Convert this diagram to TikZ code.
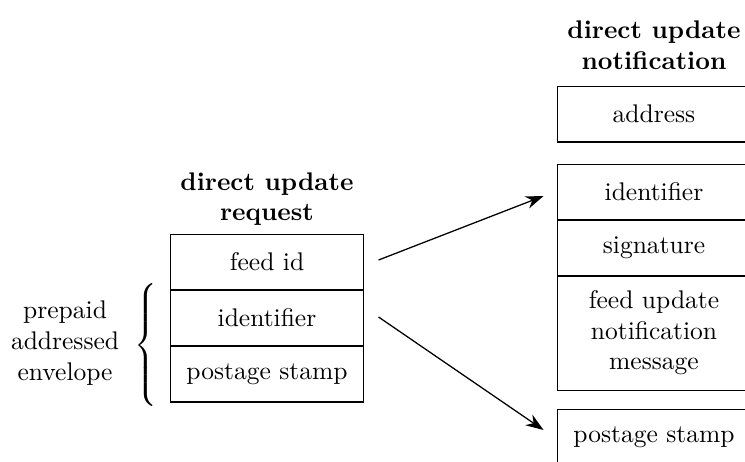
\documentclass[tikz,border=0pt]{standalone}
\usetikzlibrary{arrows.meta,calc}
\begin{document}
\begin{tikzpicture}[x=0.392pt,y=-0.392pt,
  cell/.style={draw,line width=0.4pt,minimum width=75.3pt,minimum height=21.95pt,inner sep=0pt,align=center,anchor=center},
  rcell/.style={cell,minimum width=76pt},
  title/.style={font=\bfseries,align=center,inner sep=0pt},
  conn/.style={-{Stealth[length=7pt,width=5pt]},line width=0.5pt}]
\clip (0,0) rectangle (745,461);
% left stack
\node[title] (tl) at (267,199) {direct update\\request};
\node[cell] (fid) at (267,262) {feed id};
\node[cell] (lid) at (267,318) {identifier};
\node[cell] (lps) at (267,374) {postage stamp};
% brace and label
\node[inner sep=0pt] (br) at (147,345) {$\left\{\vrule height 21.5pt depth 21.5pt width 0pt\right.$};
\node[align=center,inner sep=0pt,anchor=east] (lab) at ($(br.west)+(-14,-2)$) {prepaid\\addressed\\envelope};
% right stack
\node[title] (tr) at (654,45) {direct update\\notification};
\node[rcell] (addr) at (654,114) {address};
\node[rcell] (rid) at (654,192) {identifier};
\node[rcell] (sig) at (654,248) {signature};
\node[rcell,minimum height=44.7pt] (msg) at (654,333) {feed update\\notification\\message};
\node[rcell] (rps) at (654,437) {postage stamp};
% connectors
\coordinate (a1s) at ($(fid.east)+(15,-2)$);
\coordinate (a1e) at ($(rid.west)+(-13,4)$);
\coordinate (a2s) at ($(lid.east)+(15,-1)$);
\coordinate (a2e) at ($(rps.west)+(-13,-7)$);
\draw[conn] (a1s) -- (a1e);
\draw[conn] (a2s) -- (a2e);
\end{tikzpicture}
\end{document}
